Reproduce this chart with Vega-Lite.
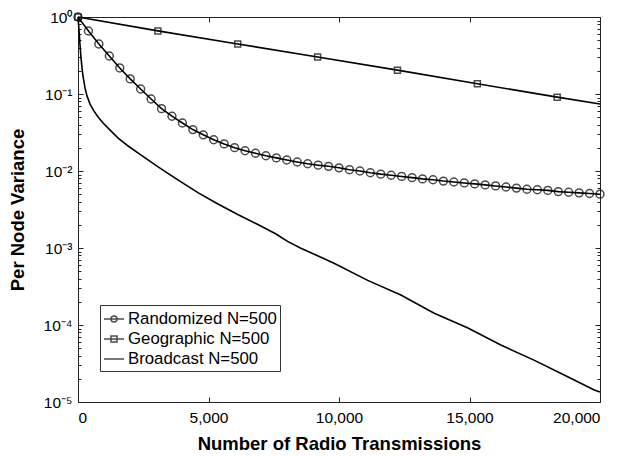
{
  "$schema": "https://vega.github.io/schema/vega-lite/v6.json",
  "width": 522,
  "height": 385,
  "autosize": "none",
  "padding": {"left": 78, "top": 17, "right": 25, "bottom": 54},
  "background": "white",
  "config": {
    "view": {"stroke": "#222", "strokeWidth": 1},
    "font": "Liberation Sans",
    "axis": {"domain": false, "grid": false, "tickColor": "#222", "labelColor": "black", "titleColor": "black", "labelFont": "Liberation Sans", "titleFont": "Liberation Sans"},
    "legend": {"labelFont": "Liberation Sans"}
  },
  "data": {
    "values": [
      {"series": "Randomized N=500", "x": 0, "y": 1.0},
      {"series": "Randomized N=500", "x": 400, "y": 0.658},
      {"series": "Randomized N=500", "x": 800, "y": 0.446},
      {"series": "Randomized N=500", "x": 1200, "y": 0.312},
      {"series": "Randomized N=500", "x": 1600, "y": 0.218},
      {"series": "Randomized N=500", "x": 2000, "y": 0.157},
      {"series": "Randomized N=500", "x": 2400, "y": 0.116},
      {"series": "Randomized N=500", "x": 2800, "y": 0.086},
      {"series": "Randomized N=500", "x": 3200, "y": 0.0645},
      {"series": "Randomized N=500", "x": 3600, "y": 0.0515},
      {"series": "Randomized N=500", "x": 4000, "y": 0.042},
      {"series": "Randomized N=500", "x": 4400, "y": 0.0345},
      {"series": "Randomized N=500", "x": 4800, "y": 0.0295},
      {"series": "Randomized N=500", "x": 5200, "y": 0.0255},
      {"series": "Randomized N=500", "x": 5600, "y": 0.0225},
      {"series": "Randomized N=500", "x": 6000, "y": 0.0201},
      {"series": "Randomized N=500", "x": 6400, "y": 0.0183},
      {"series": "Randomized N=500", "x": 6800, "y": 0.0170},
      {"series": "Randomized N=500", "x": 7200, "y": 0.0158},
      {"series": "Randomized N=500", "x": 7600, "y": 0.0148},
      {"series": "Randomized N=500", "x": 8000, "y": 0.0139},
      {"series": "Randomized N=500", "x": 8400, "y": 0.0131},
      {"series": "Randomized N=500", "x": 8800, "y": 0.0124},
      {"series": "Randomized N=500", "x": 9200, "y": 0.0119},
      {"series": "Randomized N=500", "x": 9600, "y": 0.0115},
      {"series": "Randomized N=500", "x": 10000, "y": 0.0110},
      {"series": "Randomized N=500", "x": 10400, "y": 0.0104},
      {"series": "Randomized N=500", "x": 10800, "y": 0.0100},
      {"series": "Randomized N=500", "x": 11200, "y": 0.0095},
      {"series": "Randomized N=500", "x": 11600, "y": 0.0091},
      {"series": "Randomized N=500", "x": 12000, "y": 0.0088},
      {"series": "Randomized N=500", "x": 12400, "y": 0.0085},
      {"series": "Randomized N=500", "x": 12800, "y": 0.0082},
      {"series": "Randomized N=500", "x": 13200, "y": 0.0079},
      {"series": "Randomized N=500", "x": 13600, "y": 0.0077},
      {"series": "Randomized N=500", "x": 14000, "y": 0.0074},
      {"series": "Randomized N=500", "x": 14400, "y": 0.0072},
      {"series": "Randomized N=500", "x": 14800, "y": 0.0070},
      {"series": "Randomized N=500", "x": 15200, "y": 0.0068},
      {"series": "Randomized N=500", "x": 15600, "y": 0.0066},
      {"series": "Randomized N=500", "x": 16000, "y": 0.0064},
      {"series": "Randomized N=500", "x": 16400, "y": 0.0062},
      {"series": "Randomized N=500", "x": 16800, "y": 0.0060},
      {"series": "Randomized N=500", "x": 17200, "y": 0.0058},
      {"series": "Randomized N=500", "x": 17600, "y": 0.0057},
      {"series": "Randomized N=500", "x": 18000, "y": 0.0056},
      {"series": "Randomized N=500", "x": 18400, "y": 0.0054},
      {"series": "Randomized N=500", "x": 18800, "y": 0.0053},
      {"series": "Randomized N=500", "x": 19200, "y": 0.0052},
      {"series": "Randomized N=500", "x": 19600, "y": 0.0051},
      {"series": "Randomized N=500", "x": 20000, "y": 0.0050},
      {"series": "Geographic N=500", "x": 0, "y": 1.0},
      {"series": "Geographic N=500", "x": 3060, "y": 0.66},
      {"series": "Geographic N=500", "x": 6120, "y": 0.447},
      {"series": "Geographic N=500", "x": 9180, "y": 0.302},
      {"series": "Geographic N=500", "x": 12240, "y": 0.204},
      {"series": "Geographic N=500", "x": 15300, "y": 0.136},
      {"series": "Geographic N=500", "x": 18360, "y": 0.091},
      {"series": "Geographic N=500", "x": 20000, "y": 0.074},
      {"series": "Broadcast N=500", "x": 0, "y": 1.0},
      {"series": "Broadcast N=500", "x": 38, "y": 0.678},
      {"series": "Broadcast N=500", "x": 77, "y": 0.433},
      {"series": "Broadcast N=500", "x": 115, "y": 0.294},
      {"series": "Broadcast N=500", "x": 154, "y": 0.218},
      {"series": "Broadcast N=500", "x": 192, "y": 0.171},
      {"series": "Broadcast N=500", "x": 231, "y": 0.143},
      {"series": "Broadcast N=500", "x": 269, "y": 0.120},
      {"series": "Broadcast N=500", "x": 346, "y": 0.094},
      {"series": "Broadcast N=500", "x": 462, "y": 0.074},
      {"series": "Broadcast N=500", "x": 615, "y": 0.060},
      {"series": "Broadcast N=500", "x": 769, "y": 0.0503},
      {"series": "Broadcast N=500", "x": 962, "y": 0.042},
      {"series": "Broadcast N=500", "x": 1154, "y": 0.0361},
      {"series": "Broadcast N=500", "x": 1538, "y": 0.0268},
      {"series": "Broadcast N=500", "x": 1923, "y": 0.0211},
      {"series": "Broadcast N=500", "x": 2308, "y": 0.0171},
      {"series": "Broadcast N=500", "x": 3070, "y": 0.0113},
      {"series": "Broadcast N=500", "x": 3840, "y": 0.0076},
      {"series": "Broadcast N=500", "x": 4610, "y": 0.0052},
      {"series": "Broadcast N=500", "x": 5380, "y": 0.0037},
      {"series": "Broadcast N=500", "x": 6140, "y": 0.0027},
      {"series": "Broadcast N=500", "x": 6910, "y": 0.0020},
      {"series": "Broadcast N=500", "x": 7570, "y": 0.00153},
      {"series": "Broadcast N=500", "x": 8030, "y": 0.00122},
      {"series": "Broadcast N=500", "x": 8520, "y": 0.00100},
      {"series": "Broadcast N=500", "x": 9790, "y": 0.00064},
      {"series": "Broadcast N=500", "x": 11100, "y": 0.00038},
      {"series": "Broadcast N=500", "x": 12370, "y": 0.000245},
      {"series": "Broadcast N=500", "x": 13630, "y": 0.000143},
      {"series": "Broadcast N=500", "x": 14940, "y": 0.0000914},
      {"series": "Broadcast N=500", "x": 16200, "y": 0.000055},
      {"series": "Broadcast N=500", "x": 17470, "y": 0.000035},
      {"series": "Broadcast N=500", "x": 18780, "y": 0.0000211},
      {"series": "Broadcast N=500", "x": 19780, "y": 0.0000143},
      {"series": "Broadcast N=500", "x": 20000, "y": 0.0000135}
    ]
  },
  "resolve": {"axis": {"x": "independent", "y": "independent"}},
  "layer": [
    {
      "mark": {"type": "line", "color": "black", "strokeWidth": 1.6},
      "encoding": {
        "x": {"field": "x", "type": "quantitative", "scale": {"domain": [0, 20000], "nice": false, "zero": false},
          "axis": {"orient": "bottom", "values": [0, 5000, 10000, 15000, 20000], "format": ",d", "labelFontSize": 15.5, "tickSize": -5, "labelPadding": 13, "title": "Number of Radio Transmissions", "titleFontSize": 18.5, "titleFontWeight": "bold", "titlePadding": 9}},
        "y": {"field": "y", "type": "quantitative", "scale": {"type": "log", "domain": [0.00001, 1], "nice": false},
          "axis": {"orient": "left",
            "values": [0.00001, 0.00002, 0.00003, 0.00004, 0.00005, 0.00006, 0.00007, 0.00008, 0.00009, 0.0001, 0.0002, 0.0003, 0.0004, 0.0005, 0.0006, 0.0007, 0.0008, 0.0009, 0.001, 0.002, 0.003, 0.004, 0.005, 0.006, 0.007, 0.008, 0.009, 0.01, 0.02, 0.03, 0.04, 0.05, 0.06, 0.07, 0.08, 0.09, 0.1, 0.2, 0.3, 0.4, 0.5, 0.6, 0.7, 0.8, 0.9, 1],
            "labelExpr": "datum.value == 1 ? '10⁰' : datum.value == 0.1 ? '10⁻¹' : datum.value == 0.01 ? '10⁻²' : datum.value == 0.001 ? '10⁻³' : datum.value == 0.0001 ? '10⁻⁴' : datum.value == 0.00001 ? '10⁻⁵' : ''",
            "tickSize": {"condition": {"test": "indexof([1, 0.1, 0.01, 0.001, 0.0001, 0.00001], datum.value) >= 0", "value": -5}, "value": -3},
            "labelPadding": 11, "labelFontSize": 15.5, "labelOverlap": false, "labelBound": false, "labelFlush": false,
            "title": "Per Node Variance", "titleFontSize": 18.5, "titleFontWeight": "bold", "titlePadding": 16}},
        "detail": {"field": "series"}
      }
    },
    {
      "transform": [{"filter": "datum.series == 'Randomized N=500'"}],
      "mark": {"type": "point", "shape": "circle", "filled": false, "color": "black", "strokeWidth": 1.5, "size": 62},
      "encoding": {
        "x": {"field": "x", "type": "quantitative", "axis": {"orient": "top", "values": [0, 5000, 10000, 15000, 20000], "labels": false, "tickSize": -5, "title": null}},
        "y": {"field": "y", "type": "quantitative",
          "axis": {"orient": "right", "labels": false, "title": null,
            "values": [0.00001, 0.00002, 0.00003, 0.00004, 0.00005, 0.00006, 0.00007, 0.00008, 0.00009, 0.0001, 0.0002, 0.0003, 0.0004, 0.0005, 0.0006, 0.0007, 0.0008, 0.0009, 0.001, 0.002, 0.003, 0.004, 0.005, 0.006, 0.007, 0.008, 0.009, 0.01, 0.02, 0.03, 0.04, 0.05, 0.06, 0.07, 0.08, 0.09, 0.1, 0.2, 0.3, 0.4, 0.5, 0.6, 0.7, 0.8, 0.9, 1],
            "tickSize": {"condition": {"test": "indexof([1, 0.1, 0.01, 0.001, 0.0001, 0.00001], datum.value) >= 0", "value": -5}, "value": -3}}}
      }
    },
    {
      "transform": [{"filter": "datum.series == 'Geographic N=500' && datum.x < 19000"}],
      "mark": {"type": "point", "shape": "square", "filled": false, "color": "black", "strokeWidth": 1.5, "size": 36},
      "encoding": {
        "x": {"field": "x", "type": "quantitative", "axis": null},
        "y": {"field": "y", "type": "quantitative", "axis": null}
      }
    },
    {
      "transform": [{"filter": "false"}],
      "mark": {"type": "point", "filled": false, "color": "black", "strokeWidth": 1.5},
      "encoding": {
        "x": {"field": "x", "type": "quantitative", "axis": null},
        "y": {"field": "y", "type": "quantitative", "axis": null},
        "shape": {"field": "series", "type": "nominal",
          "scale": {"domain": ["Randomized N=500", "Geographic N=500", "Broadcast N=500"],
            "range": ["M-1,0H1M0.3,0A0.3,0.3 0 1 1 -0.3,0A0.3,0.3 0 1 1 0.3,0", "M-1,0H1M-0.3,-0.3H0.3V0.3H-0.3Z", "M-1,0H1"]},
          "legend": {"orient": "none", "legendX": 22, "legendY": 288, "title": null, "symbolSize": 400, "symbolStrokeWidth": 1.5, "symbolStrokeColor": "black", "symbolFillColor": "white", "labelFontSize": 16.8, "labelColor": "black", "labelOffset": 3, "rowPadding": 0, "padding": 3, "strokeColor": "#333", "fillColor": "white"}}
      }
    }
  ]
}
